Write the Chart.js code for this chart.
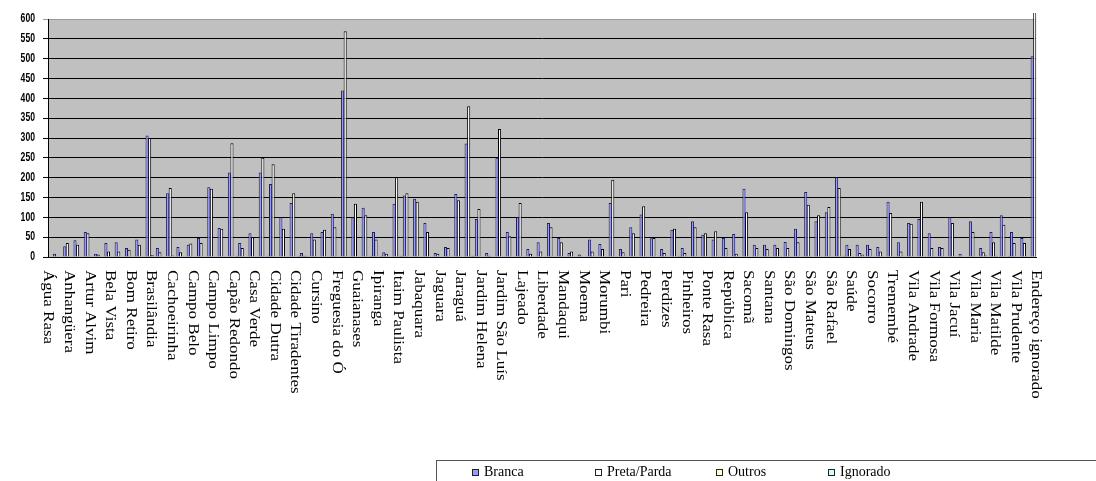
<!DOCTYPE html>
<html>
<head>
<meta charset="utf-8">
<title>Distritos por raça/cor</title>
<script src="https://cdn.jsdelivr.net/npm/chart.js@4.4.1/dist/chart.umd.min.js"></script>
<style>
    body { margin: 0; background: #fff; width: 1096px; height: 481px; overflow: hidden; position: relative; }
    #chartBox { position: absolute; left: 0; top: 0; width: 1096px; height: 481px; }
    .legend { position: absolute; left: 436px; top: 460px; width: 700px; height: 40px; border: 1px solid #555;
              box-sizing: border-box; font-family: "Liberation Serif", "Times New Roman", serif; font-size: 14px; color: #000; }
    .legend .item { position: absolute; top: 3px; line-height: 16px; white-space: nowrap; }
    .legend .sw { display: inline-block; width: 5px; height: 5px; border: 1px solid #222; margin-right: 5px; vertical-align: 0px; }
</style>
</head>
<body>
<div id="chartBox"><canvas id="districtChart" width="1096" height="481"></canvas></div>
<div class="legend" id="legendBox"></div>

<script>
const districts = [
    "Água Rasa", "Alto de Pinheiros", "Anhangüera", "Aricanduva", "Artur Alvim", "Barra Funda", "Bela Vista", "Belém",
    "Bom Retiro", "Brás", "Brasilândia", "Butantã", "Cachoeirinha", "Cambuci", "Campo Belo", "Campo Grande",
    "Campo Limpo", "Cangaíba", "Capão Redondo", "Carrão", "Casa Verde", "Cidade Ademar", "Cidade Dutra", "Cidade Líder",
    "Cidade Tiradentes", "Consolação", "Cursino", "Ermelino Matarazzo", "Freguesia do Ó", "Grajaú", "Guaianases", "Iguatemi",
    "Ipiranga", "Itaim Bibi", "Itaim Paulista", "Itaquera", "Jabaquara", "Jaçanã", "Jaguara", "Jaguaré",
    "Jaraguá", "Jardim Ângela", "Jardim Helena", "Jardim Paulista", "Jardim São Luís", "José Bonifácio", "Lajeado", "Lapa",
    "Liberdade", "Limão", "Mandaqui", "Marsilac", "Moema", "Mooca", "Morumbi", "Parelheiros",
    "Pari", "Parque do Carmo", "Pedreira", "Penha", "Perdizes", "Perus", "Pinheiros", "Pirituba",
    "Ponte Rasa", "Raposo Tavares", "República", "Rio Pequeno", "Sacomã", "Santa Cecília", "Santana", "Santo Amaro",
    "São Domingos", "São Lucas", "São Mateus", "São Miguel", "São Rafael", "Sapopemba", "Saúde", "Sé",
    "Socorro", "Tatuapé", "Tremembé", "Tucuruvi", "Vila Andrade", "Vila Curuçá", "Vila Formosa", "Vila Guilherme",
    "Vila Jacuí", "Vila Leopoldina", "Vila Maria", "Vila Mariana", "Vila Matilde", "Vila Medeiros", "Vila Prudente", "Vila Sônia",
    "Endereço ignorado"
];

const branca = [
    30, 8, 27, 42, 63, 8, 35, 37, 23, 44, 306, 23, 161, 25, 31, 48,
    176, 73, 213, 35, 60, 213, 184, 100, 136, 10, 60, 63, 109, 420, 100, 124,
    63, 12, 134, 155, 147, 86, 10, 25, 159, 286, 96, 10, 250, 63, 100, 20,
    37, 86, 48, 10, 6, 44, 33, 136, 20, 75, 107, 47, 20, 69, 23, 90,
    56, 44, 48, 58, 172, 31, 31, 31, 38, 71, 164, 90, 113, 201, 31, 31,
    31, 25, 139, 37, 86, 96, 60, 25, 100, 8, 90, 23, 63, 105, 63, 48,
    506
];

const pretaParda = [
    15, 2, 35, 31, 60, 6, 14, 14, 18, 31, 300, 12, 174, 12, 34, 35,
    172, 71, 287, 23, 50, 250, 234, 71, 161, 3, 44, 69, 75, 569, 134, 105,
    44, 8, 201, 161, 139, 63, 8, 23, 143, 380, 121, 3, 323, 52, 136, 8,
    14, 75, 37, 14, 0, 14, 20, 195, 12, 60, 128, 48, 10, 71, 10, 75,
    60, 65, 23, 8, 113, 23, 20, 23, 23, 37, 132, 105, 126, 174, 20, 10,
    20, 14, 111, 14, 84, 139, 23, 23, 86, 0, 63, 12, 37, 81, 35, 35,
    640
];

const outros = [
    0, 0, 0, 0, 0, 0, 0, 0, 0, 0, 5, 0, 4, 0, 0, 0,
    0, 0, 0, 0, 0, 0, 0, 0, 0, 3, 0, 0, 0, 0, 0, 0,
    0, 0, 3, 0, 0, 0, 0, 0, 0, 3, 0, 0, 0, 0, 0, 0,
    0, 0, 0, 0, 0, 0, 0, 0, 0, 0, 0, 0, 0, 0, 0, 0,
    0, 0, 0, 0, 0, 0, 0, 0, 0, 0, 0, 0, 0, 0, 0, 6,
    0, 0, 0, 0, 0, 0, 0, 0, 0, 0, 0, 4, 3, 0, 0, 0,
    0
];

const ignorado = [
    0, 0, 0, 0, 0, 0, 0, 0, 0, 0, 0, 0, 0, 0, 0, 0,
    0, 0, 3, 0, 0, 3, 0, 0, 3, 0, 0, 0, 0, 0, 0, 3,
    3, 0, 3, 0, 0, 0, 0, 0, 0, 3, 0, 0, 0, 0, 0, 0,
    0, 0, 0, 0, 0, 0, 0, 0, 0, 0, 0, 0, 0, 3, 0, 0,
    0, 0, 0, 0, 0, 0, 0, 0, 0, 0, 0, 0, 0, 3, 0, 0,
    0, 0, 0, 0, 0, 0, 0, 0, 0, 0, 0, 0, 0, 3, 0, 0,
    0
];

const yTicks = [0, 50, 100, 150, 200, 250, 300, 350, 400, 450, 500, 550, 600];

const seriesNames = ["Branca", "Preta/Parda", "Outros", "Ignorado"];
const seriesColors = ["#9999ff", "#ffffff", "#ffffcc", "#ccffff"];
const seriesEdges = ["#1c1c60", "#000000", "#333333", "#333333"];

// gray plot background like the old spreadsheet chart
const plotBg = {
    id: 'plotBg',
    beforeDraw(chart) {
        const a = chart.chartArea;
        const ctx = chart.ctx;
        ctx.save();
        ctx.fillStyle = '#c0c0c0';
        ctx.fillRect(a.left, a.top, a.right - a.left, a.bottom - a.top);
        ctx.restore();
    }
};

// axis texts: narrow y numbers, x names turned downwards, every other one
const axisText = {
    id: 'axisText',
    afterDraw(chart) {
        const ctx = chart.ctx;
        const a = chart.chartArea;
        const xs = chart.scales.x;
        const ys = chart.scales.y;
        ctx.save();
        ctx.fillStyle = '#000';
        ctx.textBaseline = 'middle';

        ctx.font = 'bold 12px "Liberation Sans", Arial, sans-serif';
        ctx.textAlign = 'right';
        yTicks.forEach(v => {
            ctx.save();
            ctx.translate(a.left - 13, ys.getPixelForValue(v));
            ctx.scale(0.72, 1);
            ctx.fillText(String(v), 0, 0);
            ctx.restore();
        });

        ctx.font = '17px "Liberation Serif", "Times New Roman", serif';
        ctx.textAlign = 'left';
        districts.forEach((name, i) => {
            if (i % 2) return;
            ctx.save();
            ctx.translate(xs.getPixelForValue(i), a.bottom + 13);
            ctx.rotate(Math.PI / 2);
            ctx.scale(1, 0.8);
            ctx.fillText(name, 0, 0);
            ctx.restore();
        });
        ctx.restore();
    }
};

const values = [branca, pretaParda, outros, ignorado];

const datasets = seriesNames.map((name, k) => ({
    label: name,
    data: values[k],
    backgroundColor: seriesColors[k],
    borderColor: seriesEdges[k],
    borderWidth: { top: 1, right: 1, left: 1, bottom: 0 },
    categoryPercentage: 1,
    barPercentage: 1.2,
    clip: { left: 0, top: k === 1 ? 6 : 0, right: 5, bottom: 0 }
}));

const ctx = document.getElementById('districtChart').getContext('2d');
window.barChart = new Chart(ctx, {
    type: 'bar',
    data: { labels: districts, datasets: datasets },
    options: {
        responsive: false,
        animation: false,
        devicePixelRatio: 1,
        layout: { padding: { top: 19, right: 60, bottom: 0, left: 0 } },
        plugins: { legend: { display: false }, tooltip: { enabled: false } },
        scales: {
            x: {
                offset: false,
                grid: { display: false },
                border: { color: '#000', width: 1 },
                ticks: { display: false },
                afterFit: s => { s.height = 224; }
            },
            y: {
                min: 0,
                max: 600,
                afterBuildTicks: s => { s.ticks = yTicks.map(v => ({ value: v })); },
                grid: {
                    color: c => (c.tick && c.tick.value === 600) ? '#9a9a9a' : '#000',
                    lineWidth: 1,
                    tickLength: 5
                },
                border: { color: '#000', width: 1 },
                ticks: { display: false },
                afterFit: s => { s.width = 48; }
            }
        }
    },
    plugins: [plotBg, axisText]
});

// legend box at the bottom, cut by the page edge as in the picture
const legendLeft = [35, 158, 279, 391];
const legendBox = document.getElementById('legendBox');
seriesNames.forEach((name, k) => {
    const item = document.createElement('div');
    item.className = 'item';
    item.style.left = legendLeft[k] + 'px';
    item.innerHTML = '<span class="sw" style="background:' + seriesColors[k] + '"></span>' + name;
    legendBox.appendChild(item);
});
</script>
</body>
</html>
